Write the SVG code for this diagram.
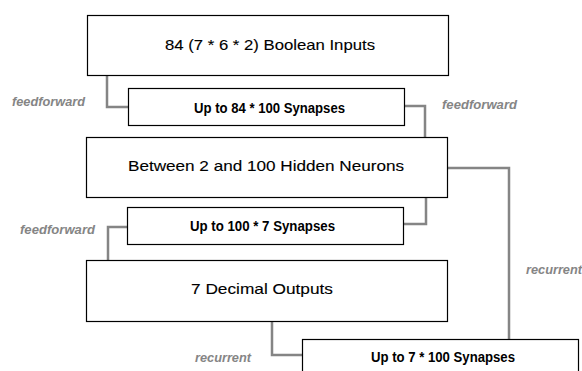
<svg xmlns="http://www.w3.org/2000/svg" width="582" height="371" viewBox="0 0 582 371">
<style>
.box{fill:#fff;stroke:#000;stroke-width:1.2}
.big{font-family:"Liberation Sans",Arial,sans-serif;font-size:15px;fill:#000;stroke:#000;stroke-width:0.12}
.small{font-family:"Liberation Sans",Arial,sans-serif;font-size:14px;font-weight:bold;fill:#000}
.lbl{font-family:"Liberation Sans",Arial,sans-serif;font-size:12.5px;font-weight:bold;font-style:italic;fill:#858585}
.conn{fill:none;stroke:#858585;stroke-width:2.5}
</style>
<rect width="582" height="371" fill="#fff"/>
<g id="connectors">
<polyline class="conn" points="107,75 107,107 128,107"/>
<polyline class="conn" points="404,106 425,106 425,137"/>
<polyline class="conn" points="447,168 509,168 509,339"/>
<polyline class="conn" points="426,197 426,224 403,224"/>
<polyline class="conn" points="127,227 108,227 108,260"/>
<polyline class="conn" points="272,321 272,355 302,355"/>
</g>
<g id="inputs"><rect class="box" x="87.5" y="15.5" width="361" height="60"/><text class="big" x="165" y="50" textLength="210" lengthAdjust="spacingAndGlyphs">84 (7 * 6 * 2) Boolean Inputs</text></g>
<g id="syn1"><rect class="box" x="128.5" y="88.5" width="276" height="37"/><text class="small" x="194" y="113" textLength="151" lengthAdjust="spacingAndGlyphs">Up to 84 * 100 Synapses</text></g>
<g id="hidden"><rect class="box" x="86.5" y="137.5" width="361" height="60"/><text class="big" x="128" y="170.5" textLength="276" lengthAdjust="spacingAndGlyphs">Between 2 and 100 Hidden Neurons</text></g>
<g id="syn2"><rect class="box" x="127.5" y="207.5" width="276" height="37"/><text class="small" x="190" y="230.5" textLength="145" lengthAdjust="spacingAndGlyphs">Up to 100 * 7 Synapses</text></g>
<g id="outputs"><rect class="box" x="86.5" y="260.5" width="361" height="61"/><text class="big" x="191" y="293.5" textLength="142" lengthAdjust="spacingAndGlyphs">7 Decimal Outputs</text></g>
<g id="syn3"><rect class="box" x="302.5" y="339.5" width="276" height="40"/><text class="small" x="371" y="361.5" textLength="144" lengthAdjust="spacingAndGlyphs">Up to 7 * 100 Synapses</text></g>
<g id="labels">
<text class="lbl" x="12" y="106" textLength="73" lengthAdjust="spacingAndGlyphs">feedforward</text>
<text class="lbl" x="442" y="109" textLength="75" lengthAdjust="spacingAndGlyphs">feedforward</text>
<text class="lbl" x="20" y="234" textLength="75" lengthAdjust="spacingAndGlyphs">feedforward</text>
<text class="lbl" x="526" y="274" textLength="56" lengthAdjust="spacingAndGlyphs">recurrent</text>
<text class="lbl" x="195" y="362" textLength="56" lengthAdjust="spacingAndGlyphs">recurrent</text>
</g>
</svg>
